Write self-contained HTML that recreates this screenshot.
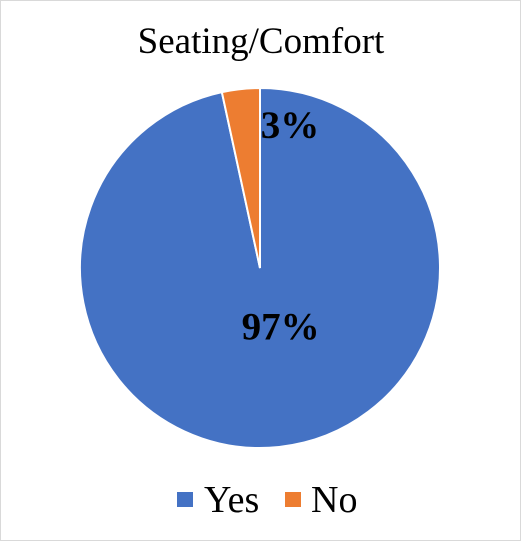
<!DOCTYPE html>
<html><head><style>
body{margin:0;background:#fff}
svg{display:block}
text{font-family:"Liberation Serif",serif}
</style></head><body>
<svg width="521" height="541">
<rect x="0.5" y="0.5" width="520" height="540" fill="#fff" stroke="#d9d9d9"/>
<text x="261" y="53" text-anchor="middle" font-size="37">Seating/Comfort</text>
<g id="slices"></g>
<g id="labels"></g>
<g>
<rect x="177" y="492" width="16" height="15" fill="#4472c4"/>
<text x="204" y="512" font-size="38">Yes</text>
<rect x="285" y="492" width="16" height="15" fill="#ed7d31"/>
<text x="311" y="512" font-size="38">No</text>
</g>
</svg>
<script>
const categories=["Yes","No"];
const values=[96.6,3.4];
const labels=["97%","3%"];
const colors=["#4472c4","#ed7d31"];
const cx=260,cy=268,r=180;
const total=values.reduce((a,b)=>a+b,0);
const g=document.getElementById('slices'),lg=document.getElementById('labels');
const ns="http://www.w3.org/2000/svg";
let a0=0;
function pt(a,rr){return [cx+rr*Math.sin(a),cy-rr*Math.cos(a)];}
values.forEach((v,i)=>{
  const a1=a0+v/total*2*Math.PI;
  const p0=pt(a0,r),p1=pt(a1,r);
  const large=(a1-a0)>Math.PI?1:0;
  const p=document.createElementNS(ns,'path');
  p.setAttribute('d',`M${cx},${cy}L${p0[0]},${p0[1]}A${r},${r} 0 ${large} 1 ${p1[0]},${p1[1]}Z`);
  p.setAttribute('fill',colors[i]);
  p.setAttribute('stroke','#fff');
  p.setAttribute('stroke-width','2');
  
  
  g.appendChild(p);
  const mid=(a0+a1)/2;
  let lp;
  if(v/total<0.1){lp=[cx+30,cy-130];}else{lp=pt(mid,72);lp[0]+=13;}
  const t=document.createElementNS(ns,'text');
  t.setAttribute('x',lp[0]);t.setAttribute('y',lp[1]);
  t.setAttribute('text-anchor','middle');
  t.setAttribute('font-size','39');t.setAttribute('font-weight','bold');
  t.textContent=labels[i];
  
  
  lg.appendChild(t);
  a0=a1;
});
</script>
</body></html>
